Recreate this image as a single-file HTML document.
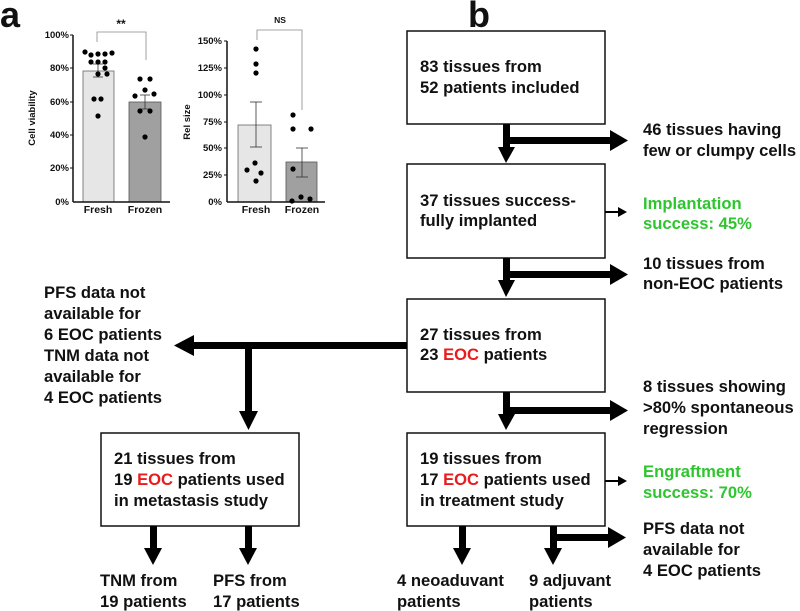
<!DOCTYPE html>
<html><head><meta charset="utf-8"><style>
body{margin:0;background:#fff}
svg{display:block}
text{font-family:"Liberation Sans",Arial,sans-serif;font-weight:bold;fill:#111}
.t{font-size:16.6px}
.s{font-size:9.5px}
.c{font-size:10.5px}
.g{fill:#2ec52e}
.r{fill:#e81c1c}
</style></head><body>
<svg width="800" height="611" viewBox="0 0 800 611" xmlns="http://www.w3.org/2000/svg">
<text x="0" y="27" style="font-size:36px">a</text>
<text x="468" y="27" style="font-size:36px">b</text>

<!-- chart 1 -->
<g>
<rect x="83" y="71" width="31" height="131" fill="#e6e6e6" stroke="#666" stroke-width="0.8"/>
<rect x="129" y="102" width="32" height="100" fill="#a0a0a0" stroke="#555" stroke-width="0.8"/>
<line x1="73" y1="35" x2="73" y2="202" stroke="#111" stroke-width="1.5"/>
<line x1="73" y1="202" x2="170" y2="202" stroke="#111" stroke-width="1.5"/>
<g stroke="#111" stroke-width="1"><line x1="70" y1="35" x2="73" y2="35"/><line x1="70" y1="68" x2="73" y2="68"/><line x1="70" y1="102" x2="73" y2="102"/><line x1="70" y1="135" x2="73" y2="135"/><line x1="70" y1="168" x2="73" y2="168"/></g>
<g class="s" text-anchor="end"><text x="69" y="38">100%</text><text x="69" y="71">80%</text><text x="69" y="105">60%</text><text x="69" y="138">40%</text><text x="69" y="171">20%</text><text x="69" y="205">0%</text></g>
<text class="s" transform="translate(35,118) rotate(-90)" text-anchor="middle">Cell viability</text>
<text class="c" x="98" y="213" text-anchor="middle">Fresh</text><text class="c" x="145" y="213" text-anchor="middle">Frozen</text>
<path d="M97 42V32H146V60" fill="none" stroke="#888" stroke-width="0.8"/>
<text x="121" y="28" style="font-size:12px" text-anchor="middle">**</text>
<g stroke="#333" stroke-width="0.8"><line x1="98" y1="64" x2="98" y2="77"/><line x1="93" y1="64" x2="103" y2="64"/><line x1="93" y1="77" x2="103" y2="77"/>
<line x1="145" y1="95" x2="145" y2="109"/><line x1="140" y1="95" x2="150" y2="95"/><line x1="140" y1="109" x2="150" y2="109"/></g>
<g fill="#000">
<circle cx="85" cy="52" r="2.6"/><circle cx="91" cy="55" r="2.6"/><circle cx="98" cy="54" r="2.6"/><circle cx="105" cy="54" r="2.6"/><circle cx="112" cy="53" r="2.6"/>
<circle cx="91" cy="62" r="2.6"/><circle cx="98" cy="62" r="2.6"/><circle cx="105" cy="62" r="2.6"/><circle cx="105" cy="68" r="2.6"/><circle cx="98" cy="74" r="2.6"/><circle cx="107" cy="74" r="2.6"/>
<circle cx="94" cy="99" r="2.6"/><circle cx="101" cy="99" r="2.6"/><circle cx="98" cy="116" r="2.6"/>
<circle cx="140" cy="79" r="2.6"/><circle cx="150" cy="79" r="2.6"/><circle cx="145" cy="90" r="2.6"/><circle cx="135" cy="96" r="2.6"/><circle cx="154" cy="94" r="2.6"/><circle cx="140" cy="111" r="2.6"/><circle cx="150" cy="111" r="2.6"/><circle cx="145" cy="137" r="2.6"/>
</g>
</g>

<!-- chart 2 -->
<g>
<rect x="238" y="125" width="33" height="77" fill="#e6e6e6" stroke="#666" stroke-width="0.8"/>
<rect x="286" y="162" width="31" height="40" fill="#a0a0a0" stroke="#555" stroke-width="0.8"/>
<line x1="227" y1="41" x2="227" y2="202" stroke="#111" stroke-width="1.5"/>
<line x1="227" y1="202" x2="325" y2="202" stroke="#111" stroke-width="1.5"/>
<g stroke="#111" stroke-width="1"><line x1="224" y1="41" x2="227" y2="41"/><line x1="224" y1="68" x2="227" y2="68"/><line x1="224" y1="95" x2="227" y2="95"/><line x1="224" y1="122" x2="227" y2="122"/><line x1="224" y1="148" x2="227" y2="148"/><line x1="224" y1="175" x2="227" y2="175"/></g>
<g class="s" text-anchor="end"><text x="222" y="44">150%</text><text x="222" y="71">125%</text><text x="222" y="98">100%</text><text x="222" y="125">75%</text><text x="222" y="151">50%</text><text x="222" y="178">25%</text><text x="222" y="205">0%</text></g>
<text class="s" transform="translate(190,122) rotate(-90)" text-anchor="middle">Rel size</text>
<text class="c" x="256" y="213" text-anchor="middle">Fresh</text><text class="c" x="302" y="213" text-anchor="middle">Frozen</text>
<path d="M257 40V30H302V110" fill="none" stroke="#888" stroke-width="0.8"/>
<text x="280" y="23" style="font-size:8.5px" text-anchor="middle">NS</text>
<g stroke="#333" stroke-width="0.8"><line x1="256" y1="102" x2="256" y2="147"/><line x1="250" y1="102" x2="262" y2="102"/><line x1="250" y1="147" x2="262" y2="147"/>
<line x1="302" y1="148" x2="302" y2="177"/><line x1="296" y1="148" x2="308" y2="148"/><line x1="296" y1="177" x2="308" y2="177"/></g>
<g fill="#000">
<circle cx="256" cy="49" r="2.6"/><circle cx="256" cy="64" r="2.6"/><circle cx="256" cy="73" r="2.6"/>
<circle cx="255" cy="163" r="2.6"/><circle cx="247" cy="170" r="2.6"/><circle cx="261" cy="173" r="2.6"/><circle cx="256" cy="181" r="2.6"/>
<circle cx="293" cy="115" r="2.6"/><circle cx="293" cy="129" r="2.6"/><circle cx="311" cy="129" r="2.6"/><circle cx="293" cy="169" r="2.6"/><circle cx="292" cy="201" r="2.6"/><circle cx="301" cy="197" r="2.6"/><circle cx="310" cy="199" r="2.6"/>
</g>
</g>

<!-- boxes -->
<g fill="none" stroke="#111" stroke-width="1.5">
<rect x="407" y="31" width="198" height="93"/>
<rect x="407" y="164" width="198" height="94"/>
<rect x="407" y="299" width="198" height="93"/>
<rect x="407" y="433" width="198" height="93"/>
<rect x="101" y="433" width="198" height="93"/>
</g>

<!-- arrows -->
<g fill="#000">
<rect x="503" y="124" width="7" height="25"/><polygon points="498,147 515,147 506,163"/>
<rect x="506" y="137" width="106" height="7"/><polygon points="610,130 628,140.5 610,151"/>
<rect x="503" y="258" width="7" height="24"/><polygon points="498,280 515,280 506,297"/>
<rect x="506" y="271" width="106" height="7"/><polygon points="610,264 628,274.5 610,285"/>
<rect x="605" y="211" width="15" height="2"/><polygon points="618,207 627,212 618,217"/>
<rect x="503" y="392" width="7" height="24"/><polygon points="498,414 515,414 506,430"/>
<rect x="506" y="407" width="106" height="7"/><polygon points="610,400 628,410.5 610,421"/>
<rect x="192" y="342" width="215" height="7"/><polygon points="194,335 174,345.5 194,356"/>
<rect x="245" y="345" width="7" height="68"/><polygon points="239,411 258,411 248.5,430"/>
<rect x="605" y="480" width="15" height="2"/><polygon points="618,476 627,481 618,486"/>
<rect x="459" y="526" width="7" height="24"/><polygon points="453,548 471,548 462,565"/>
<rect x="550" y="526" width="7" height="24"/><polygon points="544,548 562,548 553,565"/>
<rect x="553" y="534" width="57" height="7"/><polygon points="608,527 626,537.5 608,548"/>
<rect x="150" y="526" width="7" height="24"/><polygon points="144,548 162,548 153,565"/>
<rect x="245" y="526" width="7" height="24"/><polygon points="239,548 257,548 248,565"/>
</g>

<!-- texts -->
<g class="t">
<text x="420" y="72">83 tissues from</text><text x="420" y="93">52 patients included</text>
<text x="643" y="135">46 tissues having</text><text x="643" y="156">few or clumpy cells</text>
<text x="420" y="206">37 tissues success-</text><text x="420" y="226">fully implanted</text>
<text class="g" x="643" y="209">Implantation</text><text class="g" x="643" y="229">success: 45%</text>
<text x="643" y="269">10 tissues from</text><text x="643" y="289">non-EOC patients</text>
<text x="420" y="340">27 tissues from</text><text x="420" y="360">23 <tspan class="r">EOC</tspan> patients</text>
<text x="44" y="298">PFS data not</text><text x="44" y="319">available for</text><text x="44" y="340">6 EOC patients</text><text x="44" y="361">TNM data not</text><text x="44" y="382">available for</text><text x="44" y="403">4 EOC patients</text>
<text x="643" y="392">8 tissues showing</text><text x="643" y="413">&gt;80% spontaneous</text><text x="643" y="434">regression</text>
<text x="420" y="464">19 tissues from</text><text x="420" y="485">17 <tspan class="r">EOC</tspan> patients used</text><text x="420" y="506">in treatment study</text>
<text class="g" x="643" y="477">Engraftment</text><text class="g" x="643" y="498">success: 70%</text>
<text x="643" y="534">PFS data not</text><text x="643" y="555">available for</text><text x="643" y="576">4 EOC patients</text>
<text x="114" y="464">21 tissues from</text><text x="114" y="485">19 <tspan class="r">EOC</tspan> patients used</text><text x="114" y="506">in metastasis study</text>
<text x="100" y="586">TNM from</text><text x="100" y="607">19 patients</text>
<text x="213" y="586">PFS from</text><text x="213" y="607">17 patients</text>
<text x="397" y="586">4 neoaduvant</text><text x="397" y="607">patients</text>
<text x="529" y="586">9 adjuvant</text><text x="529" y="607">patients</text>
</g>
</svg>
</body></html>
